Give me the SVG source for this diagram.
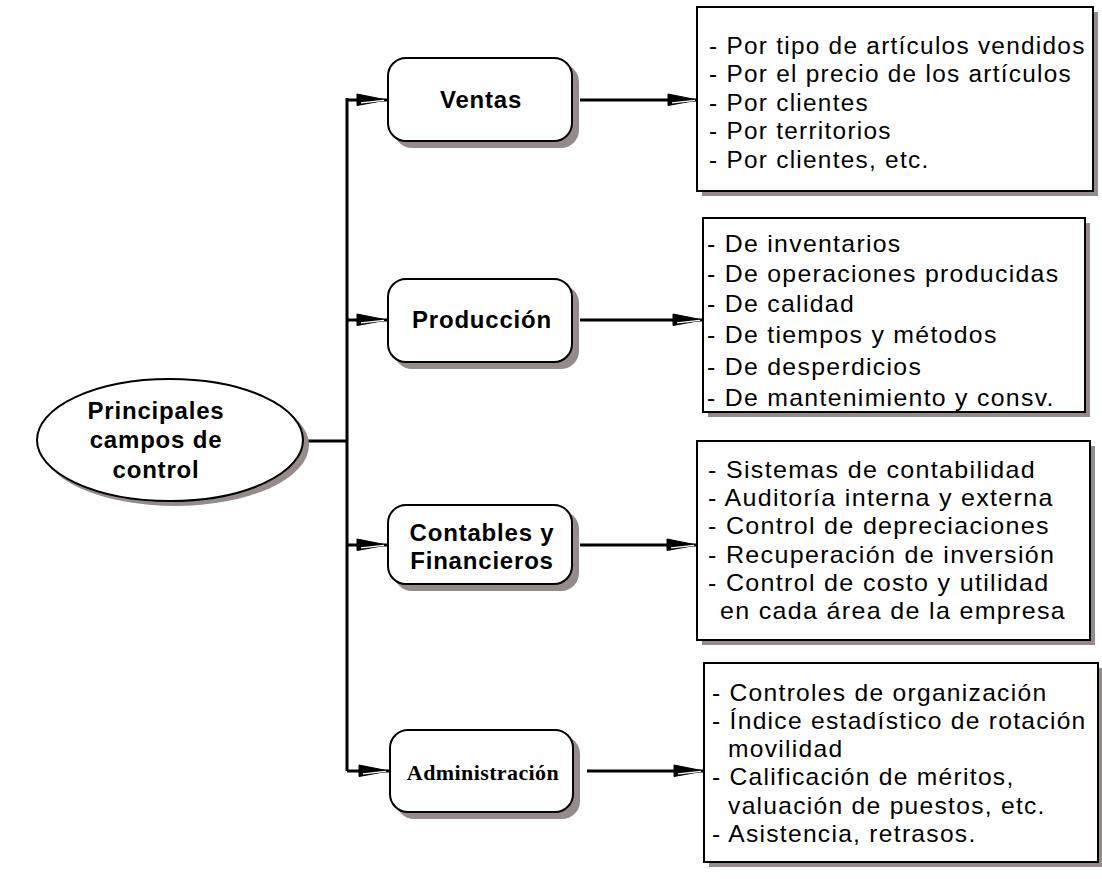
<svg xmlns="http://www.w3.org/2000/svg" width="1102" height="879" viewBox="0 0 1102 879">
  <style>
    .shadow { fill: #958b8b; stroke: none; }
    .node { fill: #ffffff; stroke: #000000; stroke-width: 2; }
    .wire { fill: none; stroke: #000000; stroke-width: 3; }
    .title { font-family: "Liberation Sans", Arial, sans-serif; font-weight: bold; font-size: 24px; letter-spacing: 0.8px; fill: #000; text-anchor: middle; }
    .serif { font-family: "Liberation Serif", "Times New Roman", serif; font-weight: bold; font-size: 22px; letter-spacing: 0.4px; fill: #000; text-anchor: middle; }
    .item { font-family: "Liberation Sans", Arial, sans-serif; font-size: 23px; letter-spacing: 1.2px; fill: #000; }
  </style>
  <defs>
    <marker id="arrow" markerUnits="userSpaceOnUse" markerWidth="34" markerHeight="16" refX="31" refY="8" orient="auto" overflow="visible">
      <path d="M1,2 L31,8 L1,13.5 Z" fill="#000" stroke="#000" stroke-width="1"/>
      <path d="M5,10.8 L28,8.3" stroke="#fff" stroke-width="1.2"/>
    </marker>
  </defs>
  <rect width="1102" height="879" fill="#ffffff"/>

  <!-- connectors -->
  <g id="connectors">
    <path class="wire" d="M303,441 H347"/>
    <path class="wire" d="M347,98 V771"/>
    <path class="wire" d="M347,100 H387" stroke-width="2.5" marker-end="url(#arrow)"/>
    <path class="wire" d="M347,320 H387" stroke-width="2.5" marker-end="url(#arrow)"/>
    <path class="wire" d="M347,545 H387" stroke-width="2.5" marker-end="url(#arrow)"/>
    <path class="wire" d="M347,771 H389" stroke-width="2.5" marker-end="url(#arrow)"/>
    <path class="wire" d="M580,100 H698" stroke-width="2.5" marker-end="url(#arrow)"/>
    <path class="wire" d="M580,320 H703" stroke-width="2.5" marker-end="url(#arrow)"/>
    <path class="wire" d="M580,545 H697" stroke-width="2" marker-end="url(#arrow)"/>
    <path class="wire" d="M587,771 H704" stroke-width="2.5" marker-end="url(#arrow)"/>
  </g>

  <!-- root -->
  <g id="root">
    <ellipse class="shadow" cx="175" cy="445" rx="134" ry="61"/>
    <ellipse class="node" cx="170" cy="440" rx="133" ry="61"/>
    <text class="title" x="156" y="419">Principales</text>
    <text class="title" x="156" y="448">campos de</text>
    <text class="title" x="156" y="478">control</text>
  </g>

  <!-- categories -->
  <g id="ventas">
    <rect class="shadow" x="394" y="64" width="185" height="84" rx="18"/>
    <rect class="node" x="388" y="58" width="184" height="83" rx="18"/>
    <text class="title" x="481" y="108">Ventas</text>
  </g>
  <g id="produccion">
    <rect class="shadow" x="394" y="285" width="185" height="84" rx="18"/>
    <rect class="node" x="388" y="279" width="184" height="83" rx="18"/>
    <text class="title" x="482" y="328">Producción</text>
  </g>
  <g id="contables">
    <rect class="shadow" x="394" y="511" width="185" height="80" rx="18"/>
    <rect class="node" x="388" y="505" width="184" height="79" rx="18"/>
    <text class="title" x="482" y="541">Contables y</text>
    <text class="title" x="482" y="569">Financieros</text>
  </g>
  <g id="administracion">
    <rect class="shadow" x="396" y="736" width="184" height="83" rx="18"/>
    <rect class="node" x="390" y="730" width="183" height="82" rx="18"/>
    <text class="serif" x="483" y="780">Administración</text>
  </g>

  <!-- detail lists (text slightly widened) -->
  <g id="lista-ventas">
    <rect class="shadow" x="702" y="12" width="396" height="184"/>
    <rect class="node" x="697" y="7" width="396" height="184"/>
    <g transform="translate(709,0) scale(1.06,1) translate(-709,0)">
      <text class="item" x="709" y="54">- Por tipo de artículos vendidos</text>
      <text class="item" x="709" y="82">- Por el precio de los artículos</text>
      <text class="item" x="709" y="111">- Por clientes</text>
      <text class="item" x="709" y="139">- Por territorios</text>
      <text class="item" x="709" y="168">- Por clientes, etc.</text>
    </g>
  </g>
  <g id="lista-produccion">
    <rect class="shadow" x="708" y="223" width="382" height="194"/>
    <rect class="node" x="703" y="218" width="382" height="194"/>
    <g transform="translate(707,0) scale(1.08,1) translate(-707,0)">
      <text class="item" x="707" y="252">- De inventarios</text>
      <text class="item" x="707" y="282">- De operaciones producidas</text>
      <text class="item" x="707" y="312">- De calidad</text>
      <text class="item" x="707" y="343">- De tiempos y métodos</text>
      <text class="item" x="707" y="375">- De desperdicios</text>
      <text class="item" x="707" y="406">- De mantenimiento y consv.</text>
    </g>
  </g>
  <g id="lista-contables">
    <rect class="shadow" x="702" y="446" width="393" height="199"/>
    <rect class="node" x="697" y="441" width="393" height="199"/>
    <g transform="translate(708,0) scale(1.09,1) translate(-708,0)">
      <text class="item" x="708" y="478">- Sistemas de contabilidad</text>
      <text class="item" x="708" y="506">- Auditoría interna y externa</text>
      <text class="item" x="708" y="534">- Control de depreciaciones</text>
      <text class="item" x="708" y="563">- Recuperación de inversión</text>
      <text class="item" x="708" y="591">- Control de costo y utilidad</text>
      <text class="item" x="719" y="619">en cada área de la empresa</text>
    </g>
  </g>
  <g id="lista-administracion">
    <rect class="shadow" x="709" y="668" width="394" height="199"/>
    <rect class="node" x="704" y="663" width="394" height="199"/>
    <g transform="translate(712,0) scale(1.07,1) translate(-712,0)">
      <text class="item" x="712" y="701">- Controles de organización</text>
      <text class="item" x="712" y="729">- Índice estadístico de rotación</text>
      <text class="item" x="727" y="757">movilidad</text>
      <text class="item" x="712" y="785">- Calificación de méritos,</text>
      <text class="item" x="727" y="814">valuación de puestos, etc.</text>
      <text class="item" x="712" y="842">- Asistencia, retrasos.</text>
    </g>
  </g>
</svg>
